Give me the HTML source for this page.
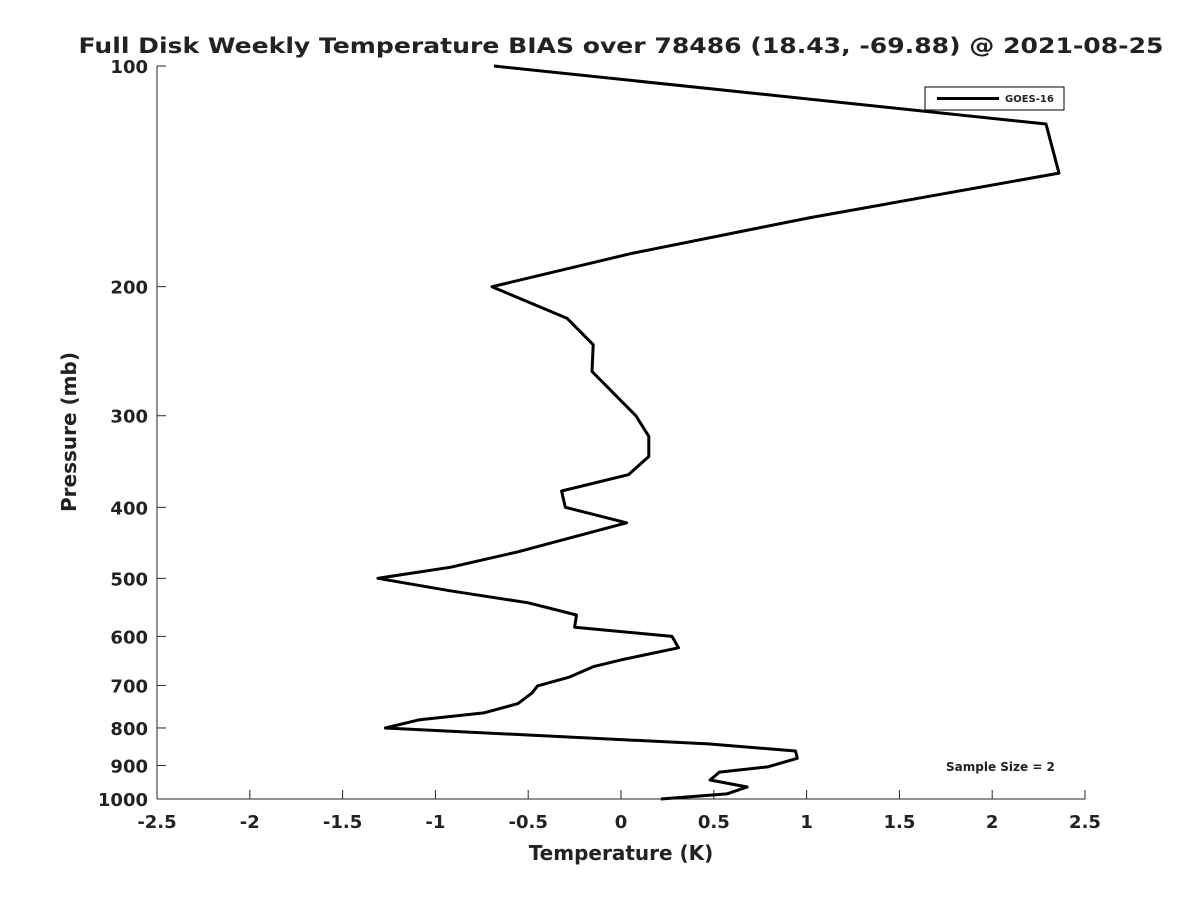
<!DOCTYPE html>
<html><head><meta charset="utf-8"><style>
body{margin:0;background:#fff;}
svg text{font-family:"DejaVu Sans","Liberation Sans",sans-serif;font-weight:bold;fill:#222;}
</style></head><body>
<svg id="chart" width="1200" height="900" xmlns="http://www.w3.org/2000/svg">
<text x="621" y="53" font-size="21" text-anchor="middle" fill="#000" textLength="1085" lengthAdjust="spacingAndGlyphs">Full Disk Weekly Temperature BIAS over 78486 (18.43, -69.88) @ 2021-08-25</text>
<g id="axes"></g>
<polyline id="series" fill="none" stroke="#000" stroke-width="3" stroke-linejoin="round"/>
<g>
<rect x="925" y="87" width="139" height="23" fill="#fff" stroke="#000" stroke-width="1"/>
<line x1="937" y1="98.5" x2="999" y2="98.5" stroke="#000" stroke-width="3"/>
<text x="1005" y="102" font-size="10" fill="#000">GOES-16</text>
</g>
<text x="946" y="771" font-size="12" fill="#000">Sample Size = 2</text>
<text x="621" y="860" font-size="20" text-anchor="middle">Temperature (K)</text>
<text transform="translate(76,432) rotate(-90)" font-size="20" text-anchor="middle">Pressure (mb)</text>
</svg>
<script>
const temps=[-0.684,2.29,2.36,1.02,0.065,-0.695,-0.29,-0.15,-0.156,0.08,0.15,0.15,0.04,-0.32,-0.30,0.03,-0.555,-0.92,-1.31,-0.92,-0.50,-0.24,-0.25,0.275,0.31,0.0,-0.15,-0.28,-0.45,-0.48,-0.555,-0.74,-1.09,-1.27,0.47,0.94,0.95,0.79,0.53,0.48,0.68,0.57,0.215];
const pressures=[100,120,140,161,180,200,221,240,261,300,320,341,361,380,400,420,460,483,500,520,540,561,583,600,622,646,660,682,701,717,741,763,780,800,841,860,880,904,919,942,963,984,1000];
const xTicks=[-2.5,-2,-1.5,-1,-0.5,0,0.5,1,1.5,2,2.5];
const yTicks=[100,200,300,400,500,600,700,800,900,1000];
const L=157,R=1085,T=66,B=799;
const xs=v=>L+(v+2.5)/5*(R-L);
const ys=p=>T+Math.log10(p/100)*(B-T);
const NS='http://www.w3.org/2000/svg';
const ax=document.getElementById('axes');
function mk(t,a){const e=document.createElementNS(NS,t);for(const k in a)e.setAttribute(k,a[k]);ax.appendChild(e);return e;}
const yl=mk('line',{x1:L,y1:T,x2:L,y2:B,stroke:'#262626','stroke-width':1});


const xl=mk('line',{x1:L,y1:B,x2:R,y2:B,stroke:'#262626','stroke-width':1});


xTicks.forEach(v=>{
 const x=xs(v);
 mk('line',{x1:x,y1:B,x2:x,y2:B-9,stroke:'#262626'});
 const t=mk('text',{x:x,y:B+29,'font-size':18,'text-anchor':'middle'});
 t.textContent=String(v);
 
 
});
yTicks.forEach(p=>{
 const y=ys(p);
 mk('line',{x1:L,y1:y,x2:L+9,y2:y,stroke:'#262626'});
 const t=mk('text',{x:L-9,y:y+7,'font-size':18,'text-anchor':'end'});
 t.textContent=String(p);
 
 
});
document.getElementById('series').setAttribute('points',temps.map((v,i)=>xs(v).toFixed(1)+','+ys(pressures[i]).toFixed(1)).join(' '));
</script>
</body></html>
